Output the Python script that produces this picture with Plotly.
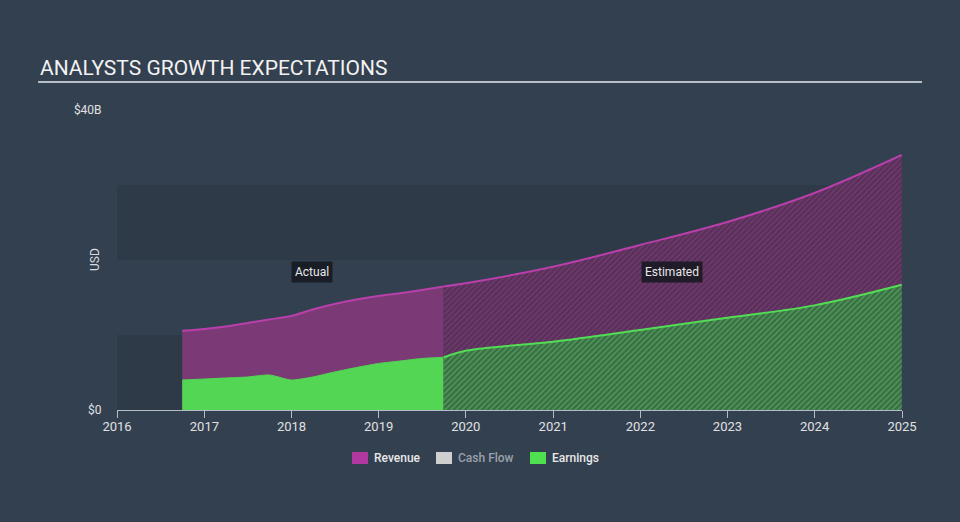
import plotly.graph_objects as go

# values in billions of USD
actual_dates = ["2016-09-30", "2016-12-31", "2017-03-31", "2017-06-30", "2017-09-30",
                "2017-12-31", "2018-03-31", "2018-06-30", "2018-09-30", "2018-12-31",
                "2019-03-31", "2019-06-30", "2019-09-30"]
actual_revenue = [10.57, 10.8, 11.13, 11.6, 12.07, 12.53, 13.4, 14.13, 14.73, 15.2, 15.56, 16.0, 16.47]
actual_earnings = [4.0, 4.13, 4.27, 4.4, 4.67, 4.0, 4.4, 5.07, 5.67, 6.2, 6.53, 6.87, 7.03]

est_dates = ["2019-09-30", "2019-12-31", "2020-12-31", "2021-12-31", "2022-12-31",
             "2023-12-31", "2024-12-31"]
est_revenue = [16.47, 16.9, 19.1, 22.0, 25.07, 28.93, 34.0]
est_earnings = [7.03, 7.9, 9.1, 10.67, 12.3, 13.95, 16.7]

legend_names = ["Revenue", "Cash Flow", "Earnings"]
legend_colors = ["#b0389f", "#cfcfcf", "#4fe04f"]
legend_text_colors = ["#e8e8e8", "#9aa1aa", "#e8e8e8"]

B = 1e9
BG = "#334050"
BAND = "#2e3a48"
REV_LINE = "#b93fab"
REV_FILL = "#7b3a75"
EARN_LINE = "#52dd55"
EARN_FILL = "#52d653"

fig = go.Figure()

# revenue first, earnings painted over it from zero
fig.add_trace(go.Scatter(
    x=actual_dates, y=[v * B for v in actual_revenue], mode="lines",
    line=dict(color=REV_LINE, width=2, shape="spline", smoothing=0.6),
    fill="tozeroy", fillcolor=REV_FILL, showlegend=False, hoverinfo="skip"))
fig.add_trace(go.Scatter(
    x=est_dates, y=[v * B for v in est_revenue], mode="lines",
    line=dict(color=REV_LINE, width=2, shape="spline", smoothing=1.0),
    fill="tozeroy", fillcolor="#553156",
    fillpattern=dict(shape="/", fgcolor="#8f3e87", bgcolor="#553156", size=4, solidity=0.45),
    showlegend=False, hoverinfo="skip"))
fig.add_trace(go.Scatter(
    x=actual_dates, y=[v * B for v in actual_earnings], mode="lines",
    line=dict(color=EARN_FILL, width=1, shape="spline", smoothing=0.6),
    fill="tozeroy", fillcolor=EARN_FILL, showlegend=False, hoverinfo="skip"))
fig.add_trace(go.Scatter(
    x=est_dates, y=[v * B for v in est_earnings], mode="lines",
    line=dict(color=EARN_LINE, width=2, shape="spline", smoothing=1.0),
    fill="tozeroy", fillcolor="#3b6a47",
    fillpattern=dict(shape="/", fgcolor="#5cc860", bgcolor="#3b6a47", size=4, solidity=0.45),
    showlegend=False, hoverinfo="skip"))

# horizontal background bands
for lo, hi in [(0, 10), (20, 30)]:
    fig.add_shape(type="rect", xref="x", yref="y", x0="2016-01-01", x1="2025-01-01",
                  y0=lo * B, y1=hi * B, fillcolor=BAND, line_width=0, layer="below")

# title and rule
fig.add_annotation(text="ANALYSTS GROWTH EXPECTATIONS", xref="paper", yref="paper",
                   x=-0.1006, y=1.14, xanchor="left", yanchor="middle", showarrow=False,
                   font=dict(family="Roboto", size=21, color="#f2f2f2"))
fig.add_shape(type="line", xref="paper", yref="paper", x0=-0.1006, x1=1.0255,
              y0=1.0933, y1=1.0933, line=dict(color="#b8bec6", width=2))

fig.add_annotation(text="USD", xref="paper", yref="paper", x=-0.028, y=0.5,
                   xanchor="center", yanchor="middle", textangle=-90, showarrow=False,
                   font=dict(family="Roboto", size=12, color="#d8dce0"))

for label, xpos in [("Actual", "2018-03-28"), ("Estimated", "2022-05-15")]:
    fig.add_annotation(text=label, x=xpos, y=18.4 * B, showarrow=False,
                       bgcolor="rgba(20,24,31,0.85)", borderpad=3,
                       font=dict(family="Roboto", size=12, color="#e8e8e8"))

# legend drawn by hand (px positions converted to paper coords)
def px_x(px):
    return (px - 117) / 785

def px_y(py):
    return (410 - py) / 300

for name, col, tcol, left in zip(legend_names, legend_colors, legend_text_colors, [352, 436, 530]):
    fig.add_shape(type="rect", xref="paper", yref="paper",
                  x0=px_x(left), x1=px_x(left + 16), y0=px_y(464), y1=px_y(452),
                  fillcolor=col, line_width=0)
    fig.add_annotation(text=name, xref="paper", yref="paper", x=px_x(left + 20), y=px_y(458),
                       xanchor="left", yanchor="middle", showarrow=False,
                       font=dict(family="Roboto", size=12, color=tcol, weight=500))

fig.update_layout(
    width=960, height=522,
    margin=dict(l=117, r=58, t=110, b=112, autoexpand=False),
    paper_bgcolor=BG, plot_bgcolor=BG,
    font=dict(family="Roboto", color="#e0e0e0"),
    showlegend=False,
    xaxis=dict(type="date", range=["2016-01-01", "2025-01-01"], dtick="M12",
               tickformat="%Y", showgrid=False, zeroline=False,
               showline=True, linecolor="#b4bcc8", linewidth=1,
               ticks="outside", ticklen=7, tickcolor="#b4bcc8", tickangle=0,
               ticklabelstandoff=-3,
               tickfont=dict(family="Roboto", size=13, color="#e0e0e0")),
    yaxis=dict(range=[0, 40 * B], tickvals=[0, 40 * B], ticktext=["$0", "$40B"],
               showgrid=False, zeroline=False, showline=False,
               ticks="outside", ticklen=12, tickcolor="rgba(0,0,0,0)",
               tickfont=dict(family="Roboto", size=12, color="#e0e0e0")),
)

fig.write_html("out.html", config={"displayModeBar": False},
               post_script="document.body.style.margin='0';")
